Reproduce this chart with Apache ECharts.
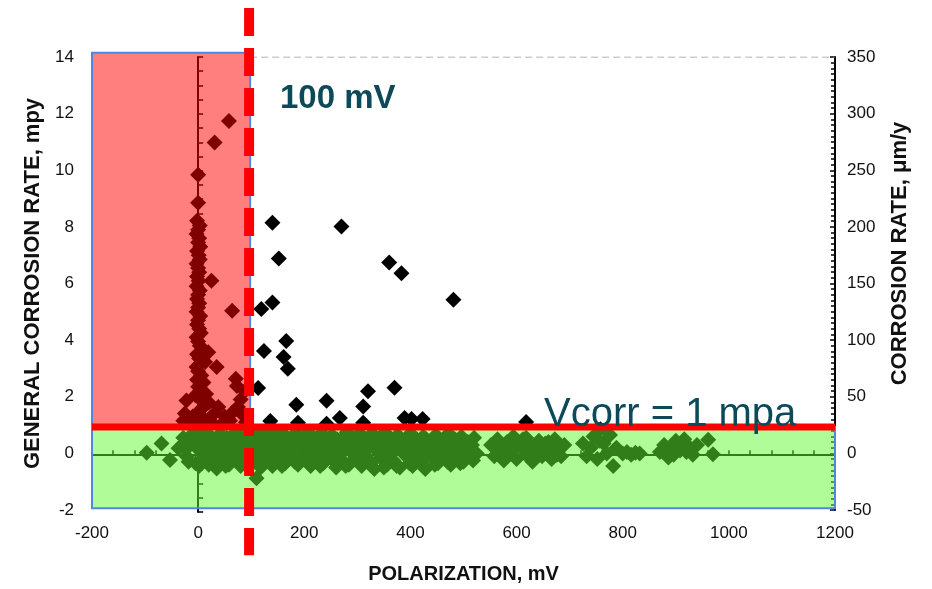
<!DOCTYPE html>
<html><head><meta charset="utf-8">
<script src="https://cdn.jsdelivr.net/npm/echarts@6/dist/echarts.min.js"></script>
<style>html,body{margin:0;padding:0;background:#fff}#c{width:932px;height:589px}</style>
</head><body><div id="c"></div>
<script>
// ---------- data ----------
const xAxisRange = [-200, 1200];          // polarization, mV
const xTickStep = 200;
const yAxisRange = [-2, 14];              // mpy
const yTickStep = 2;
const yRightRange = [-50, 350];           // um/y
const yRightStep = 50;

// scattered points in the open (white) region
const pointsHigh = [
  [140,8.15],[270,8.01],[152,6.88],[360,6.74],[383,6.36],[481,5.43],[140,5.33],[119,5.10],
  [166,3.97],[124,3.62],[161,3.40],[169,2.99],[113,2.31],[320,2.19],[370,2.32],[185,1.72],
  [242,1.86],[311,1.66],[136,1.14],[188,1.08],[242,1.05],[267,1.25],[311,1.08],[389,1.25],
  [402,1.21],[423,1.21],[618,1.11]
];
// column of points around 0 mV
const pointsCluster = [
  [58,11.74],[31,10.98],[0,9.84],[0,8.85],[-2,8.22],[3,8.05],[0,7.9],[-3,7.75],[2,7.6],[0,7.45],
  [4,7.3],[-2,7.15],[1,7.0],[3,6.85],[-3,6.7],[0,6.55],[2,6.4],[-2,6.25],[1,6.1],[25,6.1],
  [-3,5.9],[3,5.75],[0,5.6],[-2,5.45],[2,5.3],[0,5.15],[64,5.04],[-3,5.0],[4,4.85],[0,4.7],
  [-2,4.55],[2,4.4],[5,4.25],[-3,4.1],[0,3.95],[3,3.8],[8,3.65],[19,3.57],[-2,3.5],[2,3.35],
  [13,3.23],[5,3.2],[35,3.05],[-3,3.05],[0,2.9],[6,2.75],[71,2.64],[-2,2.6],[10,2.5],[73,2.38],
  [0,2.35],[4,2.2],[15,2.1],[-5,2.05],[-22,1.87],[2,1.95],[20,1.8],[38,1.64],[75,1.64],[8,1.6],
  [-25,1.41],[0,1.45],[30,1.4],[-10,1.3],[50,1.3],[85,1.35],[12,1.2],[60,1.15],[-15,1.1],[25,1.1],
  [90,1.1],[5,1.05],[-28,1.15],[45,1.05],[65,1.45],[80,1.9],[88,2.2]
];
// band of points near 0 mpy
const pointsBand = [
  [-97,0.02],[-69,0.35],[-53,-0.23],[-37,0.18],
  [-28,0.55],[-22,-0.1],[-15,0.3],[-10,0.7],[-5,-0.35],[0,0.15],[4,0.6],[8,-0.2],[12,0.35],[16,0.75],
  [20,-0.4],[24,0.1],[28,0.5],[32,-0.15],[35,-0.53],[38,0.3],[42,0.7],[46,-0.25],[50,0.15],[54,0.55],
  [58,-0.4],[62,0.05],[66,0.4],[70,0.75],[74,-0.2],[78,0.25],[82,0.6],[86,-0.35],[90,0.1],[94,0.5],
  [98,-0.1],[102,0.7],[106,0.3],[110,-0.88],[112,-0.3],[116,0.05],[120,0.55],[124,0.25],[128,-0.2],
  [132,0.75],[136,0.4],[140,-0.45],[144,0.1],[148,0.6],[152,-0.15],[156,0.3],[160,0.7],[164,-0.35],
  [168,0.05],[172,0.5],[176,-0.1],[180,0.25],[184,0.72],[188,-0.4],[192,0.15],[196,0.55],[200,-0.2],
  [204,0.35],[208,0.75],[212,-0.45],[216,0.05],[220,0.45],[224,-0.15],[228,0.3],[232,0.7],[236,-0.35],
  [240,0.1],[244,0.5],[248,-0.05],[252,0.65],[256,0.25],[260,-0.5],[264,0.0],[268,0.45],[272,-0.25],
  [276,0.3],[280,0.75],[284,-0.4],[288,0.1],[292,0.55],[296,-0.1],[300,0.35],[304,0.7],[308,-0.45],
  [312,0.05],[316,0.5],[320,-0.2],[324,0.25],[328,0.7],[332,-0.55],[336,0.1],[340,0.45],[344,-0.15],
  [348,0.3],[352,0.75],[356,-0.4],[360,0.0],[364,0.5],[368,-0.25],[372,0.25],[376,0.65],[380,-0.5],
  [384,0.1],[388,0.45],[392,-0.1],[396,0.3],[400,0.7],[404,-0.45],[408,0.05],[412,0.5],[416,-0.2],
  [420,0.2],[424,0.6],[428,-0.55],[432,0.1],[436,0.4],[440,-0.1],[444,0.25],[448,0.65],[452,-0.35],
  [456,0.0],[460,0.45],[464,-0.15],[468,0.3],[472,0.7],[476,-0.4],[480,0.1],[484,0.5],[488,-0.2],
  [492,0.25],[496,0.6],[500,-0.3],[504,0.05],[508,0.4],[512,-0.1],[516,0.3],[520,0.55],[525,0.0],
  [552,0.3],[558,-0.1],[564,0.5],[570,0.15],[576,-0.25],[582,0.4],[588,0.05],[594,0.6],[600,-0.2],
  [606,0.25],[612,0.5],[618,-0.05],[624,0.3],[630,-0.3],[636,0.15],[642,0.45],[648,-0.1],[654,0.35],
  [660,0.05],[666,-0.2],[672,0.5],[678,0.2],[684,-0.1],[690,0.3],
  [725,0.35],[732,-0.1],[740,0.2],[745,0.6],[752,-0.2],[758,0.85],[764,0.35],[770,0.0],[776,0.65],
  [782,-0.45],[788,0.2],[800,0.0],[808,0.05],[816,-0.05],[824,0.02],[832,0.0],
  [870,0.05],[878,0.3],[886,-0.15],[892,0.2],[900,0.45],[908,0.1],[916,0.5],[924,0.25],[932,-0.05],
  [940,0.3],[961,0.48],[970,-0.03],
  [-25,0.2],[-18,-0.3],[-8,0.45],[2,-0.45],[6,0.3],[14,0.0],[18,0.5],[26,-0.2],[30,0.35],[40,-0.05],
  [44,0.45],[52,-0.45],[56,0.3],[64,-0.15],[68,0.6],[76,0.05],[80,-0.45],[88,0.35],[96,0.75],[100,-0.35],
  [108,0.45],[114,0.7],[118,-0.5],[126,0.0],[134,-0.1],[142,0.6],[150,0.35],[158,-0.45],[166,0.4],[174,0.2],
  [182,-0.3],[190,0.45],[198,0.2],[206,-0.3],[214,0.55],[222,0.15],[230,-0.45],[238,0.35],[246,0.2],[254,-0.25],
  [262,0.5],[270,0.1],[278,-0.45],[286,0.4],[294,0.2],[302,-0.3],[310,0.6],[318,0.15],[326,-0.35],[334,0.4],
  [342,0.2],[350,-0.5],[358,0.35],[366,0.1],[374,-0.45],[382,0.4],[390,0.2],[398,-0.35],[406,0.6],[414,0.15],
  [422,-0.3],[430,0.5],[438,0.2],[446,-0.4],[454,0.35],[462,0.1],[470,-0.3],[478,0.45],[486,0.2],[494,-0.35],
  [502,0.45],[510,0.2],[518,-0.25],[596,0.3],[618,0.55],[660,0.4],[676,-0.05],[756,0.45],[896,-0.05],[920,0.05]
];

// annotation thresholds (data values)
const thresholdMv = 96;       // vertical dashed line
const thresholdRate = 0.93;   // horizontal line
const redZone = [-200, 98, 0.93, 14.15];     // [x0, x1, y0, y1]
const greenZone = [-200, 1200, -1.94, 0.93];
const labelMv = '100 mV';
const labelRate = 'Vcorr = 1 mpa';

// ---------- fonts ----------
function hasFont(name){
  const ctx = document.createElement('canvas').getContext('2d');
  const s = 'POLARIZATION 1200 Wmi';
  ctx.font = '40px monospace'; const a = ctx.measureText(s).width;
  ctx.font = '40px "' + name + '", monospace'; const b = ctx.measureText(s).width;
  return Math.abs(a - b) > 0.5;
}
const narrow = hasFont('Liberation Sans Narrow');
const tickFont = narrow ? {fontFamily:'"Liberation Sans Narrow"', fontSize:20} : {fontFamily:'"Liberation Sans", Arial', fontSize:17};
const xNameFont = narrow ? {fontFamily:'"Liberation Sans Narrow"', fontSize:24} : {fontFamily:'"Liberation Sans", Arial', fontSize:20};
const yNameFont = {fontFamily:'"Liberation Sans", Arial', fontSize:22};

const chart = echarts.init(document.getElementById('c'));

function zoneRender(fill){
  return function(params, api){
    const a = api.coord([api.value(0), api.value(3)]);
    const b = api.coord([api.value(1), api.value(2)]);
    return {type:'rect', shape:{x:a[0], y:a[1], width:b[0]-a[0], height:b[1]-a[1]},
      style:{fill:fill, stroke:'#4f86e6', lineWidth:2}};
  };
}

const gridRect = {left:92, right:97, top:57, bottom:77};
const allPoints = pointsHigh.concat(pointsCluster, pointsBand);
const plain = v => String(v);

chart.setOption({
  animation:false,
  backgroundColor:'#fff',
  grid:[Object.assign({}, gridRect), Object.assign({}, gridRect)],
  xAxis:[
    {type:'value', gridIndex:0, position:'bottom', min:xAxisRange[0], max:xAxisRange[1], interval:xTickStep,
     name:'POLARIZATION, mV', nameLocation:'middle', nameGap:54,
     nameTextStyle:Object.assign({color:'#111', fontWeight:'bold'}, xNameFont),
     axisLine:{show:false}, axisTick:{show:false}, splitLine:{show:false},
     axisLabel:Object.assign({color:'#111', margin:15, formatter:plain}, tickFont)},
    {type:'value', gridIndex:1, position:'bottom', min:xAxisRange[0], max:xAxisRange[1], interval:40,
     axisLine:{show:true, onZero:true, lineStyle:{color:'#000', width:2}},
     axisTick:{show:true, inside:true, length:5, lineStyle:{color:'#000', width:1.5}},
     axisLabel:{show:false}, splitLine:{show:false}}
  ],
  yAxis:[
    {type:'value', gridIndex:0, position:'left', min:yAxisRange[0], max:yAxisRange[1], interval:yTickStep,
     name:'GENERAL CORROSION RATE, mpy', nameLocation:'middle', nameGap:46,
     nameTextStyle:Object.assign({color:'#111', fontWeight:'bold'}, yNameFont),
     axisLine:{show:false}, axisTick:{show:false}, splitLine:{show:false},
     axisLabel:Object.assign({color:'#111', margin:18, formatter:plain}, tickFont)},
    {type:'value', gridIndex:0, position:'right', min:yRightRange[0], max:yRightRange[1], interval:yRightStep,
     name:'CORROSION RATE, \u03bcm/y', nameLocation:'middle', nameGap:54,
     nameTextStyle:Object.assign({color:'#111', fontWeight:'bold', padding:[0,0,0,60]}, yNameFont),
     axisLine:{show:true, lineStyle:{color:'#000', width:2}},
     axisTick:{show:true, inside:true, length:5, lineStyle:{color:'#000', width:1.5}},
     minorTick:{show:true, splitNumber:10, length:4, lineStyle:{color:'#000', width:1.5}},
     splitLine:{show:false},
     axisLabel:Object.assign({color:'#111', margin:12, formatter:plain}, tickFont)},
    {type:'value', gridIndex:1, position:'left', min:yAxisRange[0], max:yAxisRange[1], interval:0.5,
     axisLine:{show:true, onZero:true, lineStyle:{color:'#000', width:2}},
     axisTick:{show:true, inside:true, length:5, lineStyle:{color:'#000', width:1.5}},
     axisLabel:{show:false}, splitLine:{show:false}}
  ],
  series:[
    {type:'line', xAxisIndex:0, yAxisIndex:0, data:[[redZone[1], yAxisRange[1]],[xAxisRange[1], yAxisRange[1]]],
     symbol:'none', silent:true, z:1, lineStyle:{color:'#9a9a9a', width:1, type:[7,4]}},
    {type:'scatter', xAxisIndex:0, yAxisIndex:0, data:allPoints, symbol:'diamond', symbolSize:16,
     itemStyle:{color:'#000', opacity:1}, silent:true, z:2},
    {type:'custom', xAxisIndex:0, yAxisIndex:0, data:[redZone], encode:{x:[0,1], y:[2,3]},
     renderItem:zoneRender('rgba(255,0,0,0.5)'), silent:true, z:5},
    {type:'custom', xAxisIndex:0, yAxisIndex:0, data:[greenZone], encode:{x:[0,1], y:[2,3]},
     renderItem:zoneRender('rgba(96,250,50,0.5)'), silent:true, z:5},
    {type:'line', xAxisIndex:0, yAxisIndex:0, data:[[xAxisRange[0], thresholdRate],[xAxisRange[1], thresholdRate]],
     symbol:'none', silent:true, z:6, lineStyle:{color:'#ff0000', width:7}},
    {type:'line', xAxisIndex:0, yAxisIndex:0, data:[[thresholdMv, 15.73],[thresholdMv, -3.6]],
     symbol:'none', silent:true, clip:false, z:7, lineStyle:{color:'#ff0000', width:10, type:[28,12]}}
  ],
  graphic:[
    {type:'text', left:280, top:82, z:100, style:{text:labelMv, fill:'#0c4a5a', font:'bold 33px "Liberation Sans", Arial', verticalAlign:'middle'}},
    {type:'text', left:544, top:395, z:100, style:{text:labelRate, fill:'#0c4a5a', font:'40px "Liberation Sans", Arial', verticalAlign:'middle'}}
  ]
});
</script></body></html>
